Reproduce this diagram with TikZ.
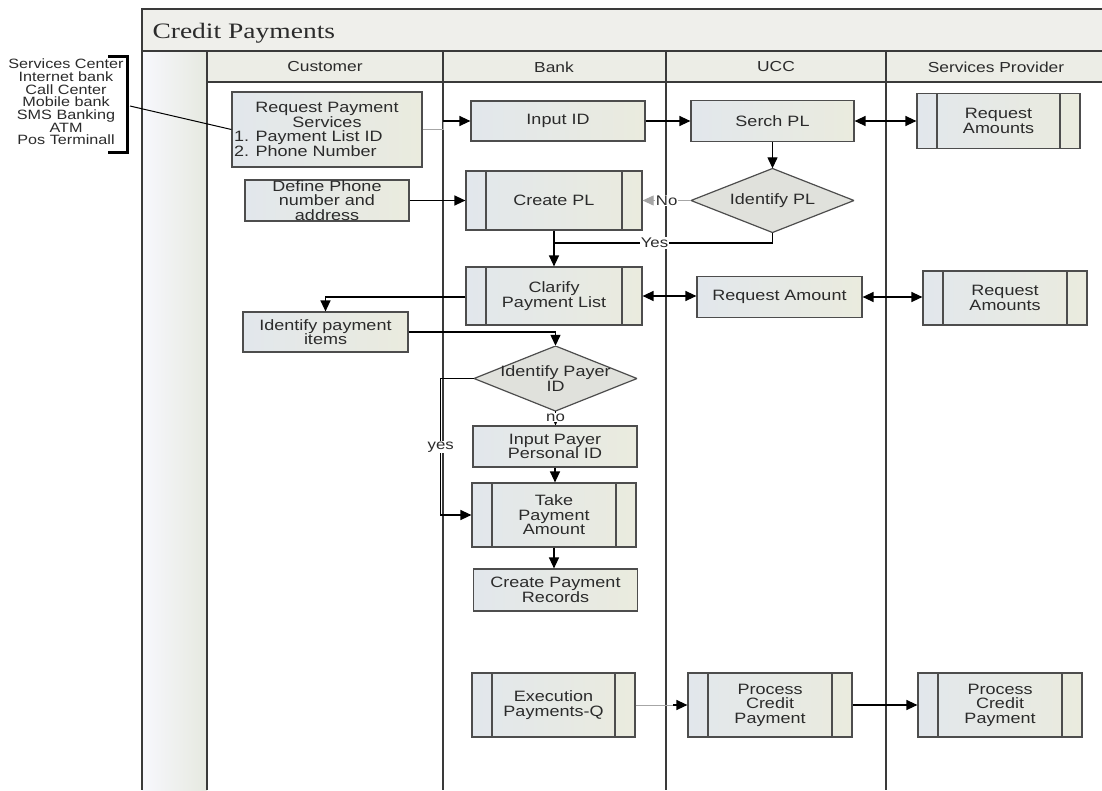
\documentclass[tikz,border=0pt]{standalone}
\usepackage{fontspec}
\usetikzlibrary{arrows.meta,shapes.geometric}
\newfontfamily\sfx{Liberation Sans}[FakeStretch=1.2]
\newfontfamily\serifx{Liberation Serif}[FakeStretch=1.25]
\definecolor{boxline}{HTML}{4D4D4D}
\definecolor{fillL}{HTML}{E2E7EC}
\definecolor{fillR}{HTML}{EAEBDE}
\definecolor{hdrfill}{HTML}{ECEDE6}
\definecolor{titlefill}{HTML}{EFEFEB}
\definecolor{colfill}{HTML}{E6E9E0}
\definecolor{txt}{HTML}{2B2B2B}
\definecolor{frame}{HTML}{3A3A3A}
\definecolor{dfill}{HTML}{E0E1DC}
\tikzset{
  box/.style={draw=boxline, line width=1.2pt, left color=fillL, right color=fillR,
    font=\sfx\fontsize{15}{14.5}\selectfont, text=txt, align=center, inner sep=0pt},
  sub/.style={box, path picture={
    \draw[boxline, line width=1.2pt]
      ([xshift=20pt]path picture bounding box.north west) -- ([xshift=20pt]path picture bounding box.south west)
      ([xshift=-20pt]path picture bounding box.north east) -- ([xshift=-20pt]path picture bounding box.south east);}},
  decision/.style={rectangle, inner sep=0pt, font=\sfx\fontsize{15}{14.5}\selectfont, text=txt, align=center,
    path picture={
    \draw[boxline, line width=1.2pt, fill=dfill]
      (path picture bounding box.west) -- (path picture bounding box.north) --
      (path picture bounding box.east) -- (path picture bounding box.south) -- cycle;}},
  arr/.style={draw=black, line width=1.3pt, -{Triangle[length=11pt,width=10pt]}},
  dbl/.style={draw=black, line width=1.3pt, {Triangle[length=11pt,width=10pt]}-{Triangle[length=11pt,width=10pt]}},
  garr/.style={draw=gray!70, line width=0.9pt, -{Triangle[length=11pt,width=10pt]}},
  gline/.style={draw=gray!70, line width=0.9pt},
  lbl/.style={fill=white, inner sep=1pt, font=\sfx\fontsize{14}{14}\selectfont, text=txt},
  hdrtext/.style={font=\sfx\fontsize{14.5}{14.5}\selectfont, text=txt},
  lane/.style={draw=frame, line width=2.6pt},
}
\begin{document}
\begin{tikzpicture}[x=1pt,y=-1pt]
\clip (0,0) rectangle (1102,790);
\fill[white] (0,0) rectangle (1102,790);
% pool
\fill[titlefill] (142,9) rectangle (1102,51);
\shade[left color=colfill!70!blue!8, right color=colfill] (142,51) rectangle (207,790);
\fill[hdrfill] (207,51) rectangle (1102,82);
\draw[frame, line width=2pt] (1102,9) -- (142,9);
\draw[frame, line width=2.4pt] (142,51) -- (1102,51);
\draw[frame, line width=1.6pt] (207,82) -- (1102,82);
\draw[lane] (142,8) -- (142,790);
\draw[lane] (207,51) -- (207,790);
\draw[lane] (443,51) -- (443,790);
\draw[frame, line width=1.8pt] (666,51) -- (666,790);
\draw[lane] (886,51) -- (886,790);
\node[anchor=base west, font=\serifx\fontsize{22}{22}\selectfont, text=txt] (title) at (149,38) {Credit Payments};
\node[hdrtext] (hcust) at (325,67) {Customer};
\node[hdrtext] (hbank) at (554,67) {Bank};
\node[hdrtext] (hucc) at (776,67) {UCC};
\node[hdrtext] (hsp) at (996,67) {Services Provider};
% channels list
\node[font=\sfx\fontsize{13.5}{12.7}\selectfont, text=txt, align=center, inner sep=0pt] (chan) at (66,102)
 {Services Center\\Internet bank\\Call Center\\Mobile bank\\SMS Banking\\ATM\\Pos Terminall};
\draw[black, line width=3pt] (108,56) -- (127,56) -- (127,152) -- (108,152);
\coordinate (brk) at (130,106);
% nodes
\node[box, minimum width=190pt, minimum height=75pt] (req) at (327,129.5)
 {Request Payment\\Services\\\hbox to 186pt{1. Payment List ID\hfil}\\\hbox to 186pt{2. Phone Number\hfil}};
\node[box, minimum width=164pt, minimum height=41pt] (def) at (327,200.5) {Define Phone\\number and\\address};
\node[box, minimum width=174pt, minimum height=40pt] (inp) at (558,121) {Input ID};
\node[box, minimum width=163pt, minimum height=41pt] (serch) at (772.5,121) {Serch PL};
\node[sub, minimum width=163pt, minimum height=55pt] (ra1) at (998.5,121) {Request\\Amounts};
\node[sub, minimum width=176pt, minimum height=59pt] (cpl) at (554,200.5) {Create PL};
\node[decision, minimum width=163pt, minimum height=64pt] (idpl) at (772.5,200.5) {Identify PL};
\node[sub, minimum width=176pt, minimum height=58pt] (clar) at (554,296) {Clarify\\Payment List};
\node[box, minimum width=165pt, minimum height=41pt] (ramt) at (779.5,297) {Request Amount};
\node[sub, minimum width=164pt, minimum height=54pt] (ra2) at (1005,298) {Request\\Amounts};
\node[box, minimum width=165pt, minimum height=40pt] (items) at (325.5,332) {Identify payment\\items};
\node[decision, minimum width=163pt, minimum height=65pt] (idpay) at (555.5,378.5) {Identify Payer\\ID};
\node[box, minimum width=164pt, minimum height=41pt] (ippid) at (555,446.5) {Input Payer\\Personal ID};
\node[sub, minimum width=164pt, minimum height=64pt] (take) at (554,515) {Take\\Payment\\Amount};
\node[box, minimum width=164pt, minimum height=42pt] (cpr) at (555.5,590) {Create Payment\\Records};
\node[sub, minimum width=163pt, minimum height=64pt] (exe) at (553.5,705) {Execution\\Payments-Q};
\node[sub, minimum width=164pt, minimum height=64pt] (pcp1) at (770,705) {Process\\Credit\\Payment};
\node[sub, minimum width=164pt, minimum height=64pt] (pcp2) at (1000,705) {Process\\Credit\\Payment};
% connectors
\draw[black, line width=1pt] (brk) -- (req.west);
\coordinate (rj) at (443,121);
\draw[gline] (req.east) -| (rj);
\draw[arr] (rj) -- (inp.west);
\draw[arr] (inp.east) -- (serch.west);
\draw[dbl] (serch.east) -- (ra1.west);
\draw[arr] (serch.south) -- (idpl.north);
\draw[garr] (idpl.west) -- node[lbl] {No} (cpl.east);
\draw[arr] (def.east) -- (cpl.west);
\draw[arr] (cpl.south) -- (clar.north);
\coordinate (yj) at (554,243);
\draw[black, line width=1.3pt] (idpl.south) |- node[lbl, pos=0.77] {Yes} (yj);
\draw[dbl] (clar.east) -- (clar.east -| ramt.west);
\draw[dbl] (ramt.east) -- (ramt.east -| ra2.west);
\draw[arr] ([yshift=-1pt]clar.west) -| (items.north);
\draw[arr] (items.east) -| (idpay.north);
\draw[arr] (idpay.west) -- ++(-33,0) |- node[lbl, pos=0.25] {yes} (take.west);
\draw[arr] (idpay.south) -- node[lbl, pos=0.45] {no} (idpay.south |- ippid.north);
\draw[arr] (ippid.south) -- (ippid.south |- take.north);
\draw[arr] (take.south) -- (take.south |- cpr.north);
\coordinate (ej) at ([xshift=-14pt]pcp1.west);
\draw[gline] (exe.east) -- (ej);
\draw[arr] (ej) -- (pcp1.west);
\draw[arr] (pcp1.east) -- (pcp2.west);
\end{tikzpicture}
\end{document}
